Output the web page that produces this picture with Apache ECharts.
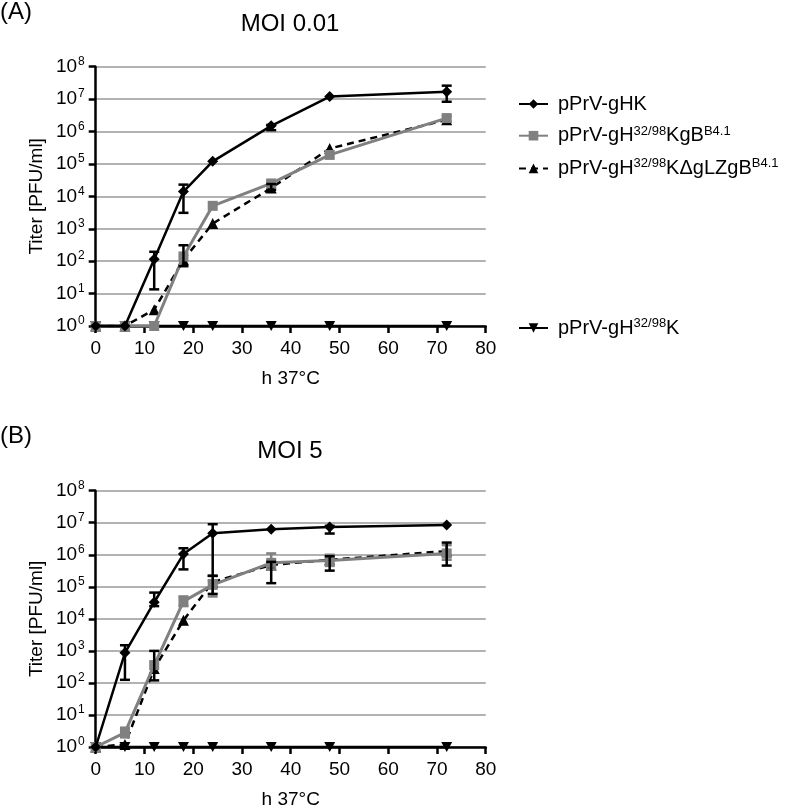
<!DOCTYPE html>
<html>
<head>
<meta charset="utf-8">
<script src="https://cdn.jsdelivr.net/npm/echarts@6/dist/echarts.min.js"></script>
<style>
  html, body { margin: 0; padding: 0; background: #fff; }
  #chart { width: 800px; height: 810px; }
</style>
</head>
<body>
<div id="chart"></div>
<script>
// hours post infection
const hours = [0, 6, 12, 18, 24, 36, 48, 72]

// (A) MOI 0.01, titer PFU/ml
const aGHK = [1, 1, 115, 1.4e4, 1.2e5, 1.5e6, 1.2e7, 1.7e7]
const aGB = [1, 1, 1, 140, 5.1e3, 2.5e4, 1.9e5, 2.6e6]
const aDgL = [1, 1, 3.2, 110, 1.45e3, 1.8e4, 3e5, 2.3e6]
const aK = [1, 1, 1, 1, 1, 1, 1, 1]

// (B) MOI 5
const bGHK = [1, 870, 3.3e4, 1.05e6, 4.7e6, 6.3e6, 7.4e6, 8.5e6]
const bGB = [1, 2.8, 360, 3.5e4, 1.15e5, 5.6e5, 6.6e5, 1.1e6]
const bDgL = [1, 1.2, 280, 9e3, 1.4e5, 4.8e5, 7e5, 1.3e6]
const bK = [1, 1, 1, 1, 1, 1, 1, 1]

// error bars [x, low, high]
const aGHKErr = [[12, 13.5, 195], [18, 3.1e3, 2.3e4], [36, 1.1e6, 1.6e6], [72, 8.3e6, 2.6e7]]
const aGBErr = [[36, 2.2e4, 3e4], [72, 2e6, 3e6]]
const aDgLErr = [[18, 70, 310], [36, 1.6e4, 2.4e4]]
const bGHKErr = [[6, 125, 1500], [12, 2.5e4, 6.6e4], [18, 3.5e5, 1.6e6], [24, 2.2e5, 9e6], [48, 4.6e6, 8e6]]
const bGBErr = [[6, 2, 4], [18, 2.5e4, 5e4], [24, 5e4, 1.6e5], [36, 3.5e5, 1.1e6], [48, 4.5e5, 1e6], [72, 7e5, 2e6]]
const bDgLErr = [[12, 120, 1000], [24, 6e4, 2.2e5], [36, 1.3e5, 6e5], [48, 3.2e5, 9e5], [72, 4.6e5, 2.4e6]]

const names = ['pPrV-gHK', 'pPrV-gH32/98KgBB4.1', 'pPrV-gH32/98KΔgLZgBB4.1', 'pPrV-gH32/98K']
const legendRich = {
  'pPrV-gHK': '{n|pPrV-gHK}',
  'pPrV-gH32/98KgBB4.1': '{n|pPrV-gH}{s|32/98}{n|KgB}{s|B4.1}',
  'pPrV-gH32/98KΔgLZgBB4.1': '{n|pPrV-gH}{s|32/98}{n|KΔgLZgB}{s|B4.1}',
  'pPrV-gH32/98K': '{n|pPrV-gH}{s|32/98}{n|K}'
}

const FONT = '"Liberation Sans", Arial, sans-serif'
const downTri = 'path://M0,0 L10,0 L5,9 Z'

const pair = (xs, ys) => xs.map((x, i) => [x, ys[i]])

// 误差线
const errSeries = (data, idx, color) => ({
  type: 'custom',
  xAxisIndex: idx,
  yAxisIndex: idx,
  silent: true,
  z: 5,
  encode: { x: 0, y: [1, 2] },
  data: data,
  renderItem: (params, api) => {
    const x = api.value(0)
    const lo = api.coord([x, api.value(1)])
    const hi = api.coord([x, api.value(2)])
    const w = 5
    const style = { stroke: color, lineWidth: 2.5 }
    return {
      type: 'group',
      children: [
        { type: 'line', shape: { x1: lo[0], y1: lo[1], x2: hi[0], y2: hi[1] }, style },
        { type: 'line', shape: { x1: lo[0] - w, y1: lo[1], x2: lo[0] + w, y2: lo[1] }, style },
        { type: 'line', shape: { x1: hi[0] - w, y1: hi[1], x2: hi[0] + w, y2: hi[1] }, style }
      ]
    }
  }
})

const lineSeries = (name, ys, idx) => {
  const base = {
    name: name,
    type: 'line',
    xAxisIndex: idx,
    yAxisIndex: idx,
    data: pair(hours, ys),
    clip: false,
    z: 3
  }
  if (name === names[0]) {
    return Object.assign(base, {
      symbol: 'diamond', symbolSize: 11, z: 4,
      itemStyle: { color: '#000' },
      lineStyle: { color: '#000', width: 2.5 }
    })
  }
  if (name === names[1]) {
    return Object.assign(base, {
      symbol: 'rect', symbolSize: 10,
      itemStyle: { color: '#808080' },
      lineStyle: { color: '#808080', width: 3 }
    })
  }
  if (name === names[2]) {
    return Object.assign(base, {
      symbol: 'triangle', symbolSize: 11, z: 2,
      itemStyle: { color: '#000' },
      lineStyle: { color: '#000', width: 2.5, type: [7, 5] }
    })
  }
  return Object.assign(base, {
    symbol: downTri, symbolSize: [11, 10], z: 2,
    itemStyle: { color: '#000' },
    lineStyle: { color: '#000', width: 2.5 }
  })
}

const xAxisCfg = (idx) => ({
  type: 'value',
  gridIndex: idx,
  min: 0,
  max: 80,
  interval: 10,
  name: 'h 37°C',
  nameLocation: 'middle',
  nameGap: 43,
  nameTextStyle: { fontFamily: FONT, fontSize: 19, color: '#000' },
  axisLine: { lineStyle: { color: '#000', width: 2.5 } },
  axisTick: { length: 7, lineStyle: { color: '#000', width: 2.5 } },
  axisLabel: { fontFamily: FONT, fontSize: 19, color: '#000', margin: 13 },
  splitLine: { show: false }
})

const yAxisCfg = (idx) => ({
  type: 'log',
  logBase: 10,
  gridIndex: idx,
  min: 1,
  max: 1e8,
  splitNumber: 8,
  name: 'Titer [PFU/ml]',
  nameLocation: 'middle',
  nameGap: 49,
  nameTextStyle: { fontFamily: FONT, fontSize: 19, color: '#000' },
  axisLine: { show: true, lineStyle: { color: '#000', width: 2.5 } },
  axisTick: { show: true, length: 7, lineStyle: { color: '#000', width: 2.5 } },
  axisLabel: {
    margin: 11,
    formatter: (v) => '{b|10}{s|' + Math.round(Math.log10(v)) + '}',
    rich: {
      b: { fontFamily: FONT, fontSize: 19, color: '#000', lineHeight: 22 },
      s: { fontFamily: FONT, fontSize: 12, color: '#000', verticalAlign: 'top', lineHeight: 22, padding: [0, 0, 9, 1] }
    }
  },
  splitLine: { show: true, lineStyle: { color: '#999', width: 1.5 } }
})

const legendCfg = (data, top) => ({
  orient: 'vertical',
  left: 513,
  top: top,
  itemWidth: 29,
  itemHeight: 12,
  itemGap: 10.7,
  data: data,
  selectedMode: false,
  formatter: (n) => legendRich[n],
  textStyle: {
    padding: [0, 0, 0, 5],
    rich: {
      n: { fontFamily: FONT, fontSize: 20, color: '#000', lineHeight: 22 },
      s: { fontFamily: FONT, fontSize: 13, color: '#000', verticalAlign: 'top', lineHeight: 22, padding: [0, 0, 9, 0] }
    }
  }
})

const titleStyle = { fontFamily: FONT, fontSize: 24, fontWeight: 'normal', color: '#000' }

const chart = echarts.init(document.getElementById('chart'), null, { renderer: 'canvas' })

chart.setOption({
  animation: false,
  backgroundColor: '#fff',
  title: [
    { text: '(A)', left: 0, top: 0, padding: 0, textStyle: titleStyle },
    { text: 'MOI 0.01', left: 290, top: 12, padding: 0, textAlign: 'center', textStyle: titleStyle },
    { text: '(B)', left: 0, top: 424, padding: 0, textStyle: titleStyle },
    { text: 'MOI 5', left: 290, top: 439, padding: 0, textAlign: 'center', textStyle: titleStyle }
  ],
  legend: [
    legendCfg(names.slice(0, 3), 89),
    legendCfg(names.slice(3), 312)
  ],
  grid: [
    { left: 95.7, width: 390, top: 66.7, height: 259.3 },
    { left: 95.7, width: 390, top: 490.7, height: 260 }
  ],
  xAxis: [xAxisCfg(0), xAxisCfg(1)],
  yAxis: [yAxisCfg(0), yAxisCfg(1)],
  series: [
    lineSeries(names[3], aK, 0),
    lineSeries(names[2], aDgL, 0),
    lineSeries(names[1], aGB, 0),
    lineSeries(names[0], aGHK, 0),
    errSeries(aGHKErr, 0, '#000'),
    errSeries(aGBErr, 0, '#808080'),
    errSeries(aDgLErr, 0, '#000'),
    lineSeries(names[3], bK, 1),
    lineSeries(names[2], bDgL, 1),
    lineSeries(names[1], bGB, 1),
    lineSeries(names[0], bGHK, 1),
    errSeries(bGHKErr, 1, '#000'),
    errSeries(bGBErr, 1, '#808080'),
    errSeries(bDgLErr, 1, '#000')
  ]
})
</script>
</body>
</html>
